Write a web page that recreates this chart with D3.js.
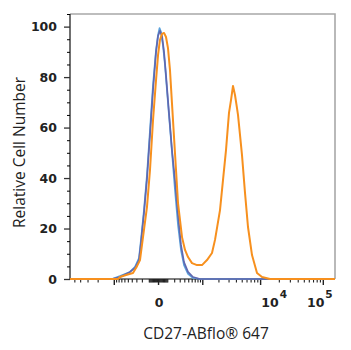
<!DOCTYPE html>
<html>
<head>
<meta charset="utf-8">
<script src="https://cdn.jsdelivr.net/npm/d3@7"></script>
<style>
html,body{margin:0;padding:0;background:#fff;}
svg{display:block;}
</style>
</head>
<body>
<svg id="chart" width="351" height="350"></svg>
<script>
// ---- data (fluorescence intensity, relative cell number) ----
const seriesNames = ["Blank control", "Isotype control", "CD27-ABflo 647"];
const blankX = [-5900,-1085,-748,-443,-328,-250,-215,-167,-124,-85,-50,-19,0,14,28,49,72,96,122,151,181,213,267,326,393,494,642,900,156000];
const blankY = [0,0,1.2,2.8,4.8,8.3,15.5,27.3,41.2,59.0,76.9,90.7,96.7,99.4,97.9,92.7,84.8,74.9,65.0,55.1,45.2,35.3,21.4,11.5,5.5,2.0,0.4,0,0];
const isoX = [-5900,-1085,-748,-443,-328,-250,-215,-167,-124,-85,-50,-19,0,18,39,61,84,109,136,165,213,267,326,393,494,642,900,156000];
const isoY = [0,0,0.8,2.8,4.4,7.5,14.3,26.1,39.6,57.0,74.9,89.9,96.3,98.3,96.3,89.9,80.8,70.9,61.0,51.1,39.2,25.4,13.5,6.7,2.8,0.8,0,0];
const sampleX = [-5900,-823,-748,-552,-372,-287,-232,-182,-124,-85,-50,-19,0,18,39,61,84,109,136,165,213,267,348,417,494,610,782,988,1234,1530,1736,2132,2406,2713,2936,3054,3304,3572,3860,4171,4334,4680,5053,5665,6346,7380,8902,10730,14435,156000];
const sampleY = [0,0,0.8,1.6,2.4,5.1,7.5,16.6,28.5,43.2,63.0,78.8,88.7,94.7,97.1,97.5,95.9,91.5,82.8,69.7,49.9,30.1,16.6,11.5,8.7,6.3,5.5,5.5,7.5,10.3,15.5,27.3,39.2,51.1,61.0,65.8,70.9,76.5,72.9,67.7,65.0,57.1,49.1,34.1,20.6,9.5,2.4,0.8,0,0];
const seriesColors = ["#5aa2dc", "#6068b0", "#f7901e"];

const yMajorTicks = [0,20,40,60,80,100];
const yMinorTicks = [5,10,15,25,30,35,45,50,55,65,70,75,85,90,95,105];
const xMajorTicks = [-1000,0,1000,10000,100000];
const xMinorTicks = [-5000,-4000,-3000,-2000,-900,-800,-700,-600,-500,-400,-300,-200,-100,
  -90,-80,-70,-60,-50,-40,-30,-20,-10,10,20,30,40,50,60,70,80,90,
  100,200,300,400,500,600,700,800,900,2000,3000,4000,5000,6000,7000,8000,9000,
  20000,30000,40000,50000,60000,70000,80000,90000];
const xLabelValues = [0, 10000, 100000];
const xLabelBase = ["0", "10", "10"];
const xLabelExp = ["", "4", "5"];
const xTitle = "CD27-ABflo\u00AE 647";
const yTitle = "Relative Cell Number";

// ---- layout ----
const L = 70, R = 335, T = 14, B = 279;
const svg = d3.select("#chart");

const x = d3.scaleSymlog().constant(250).domain([-5900, 156000]).range([L, R]);
const y = d3.scaleLinear().domain([0, 105]).range([B, T]);

// frame (top & right)
svg.append("path")
  .attr("d", `M${L},${T}H${R}V${B}`)
  .attr("fill", "none").attr("stroke", "#a8a8a8").attr("stroke-width", 1.6);

// y axis
const tickFont = "DejaVu Sans, Verdana, sans-serif";
const yAxis = svg.append("g").attr("transform", `translate(${L},0)`)
  .call(d3.axisLeft(y).tickValues(yMajorTicks).tickSize(6).tickPadding(7).tickFormat(d3.format("d")));
svg.append("g").attr("transform", `translate(${L},0)`)
  .call(d3.axisLeft(y).tickValues(yMinorTicks).tickSize(3).tickFormat(""))
  .select(".domain").remove();
yAxis.select(".domain").attr("d", `M0,${T}V${B}`).attr("stroke", "#333").attr("stroke-width", 1.4);
yAxis.selectAll(".tick line").attr("stroke", "#333").attr("stroke-width", 1.3);
yAxis.selectAll("text").attr("font-family", tickFont).attr("font-weight", "bold")
  .attr("font-size", 12.5).attr("fill", "#222");

// x axis
const xAxis = svg.append("g").attr("transform", `translate(0,${B})`)
  .call(d3.axisBottom(x).tickValues(xMajorTicks).tickSize(6).tickFormat(""));
xAxis.select(".domain").attr("d", `M${L},0H${R}`).attr("stroke", "#555").attr("stroke-width", 1.4);
xAxis.selectAll(".tick line").attr("stroke", "#222").attr("stroke-width", 1.4);
svg.append("g").attr("transform", `translate(0,${B})`)
  .call(d3.axisBottom(x).tickValues(xMinorTicks).tickSize(3.5).tickFormat(""))
  .call(g => g.select(".domain").remove())
  .selectAll(".tick line").attr("stroke", "#222").attr("stroke-width", 1.1);

// x tick labels
const labelOffsets = [1, 14, -3];
xLabelValues.forEach((v, i) => {
  const t = svg.append("text")
    .attr("x", x(v) + labelOffsets[i]).attr("y", 307)
    .attr("text-anchor", "middle")
    .attr("font-family", tickFont).attr("font-weight", "bold")
    .attr("font-size", 12.5).attr("fill", "#222");
  t.append("tspan").text(xLabelBase[i]);
  if (xLabelExp[i]) {
    t.append("tspan").attr("dy", -9).attr("dx", 1).attr("font-size", 10.5).text(xLabelExp[i]);
  }
});

// curves
const line = d3.line().x(d => x(d[0])).y(d => y(d[1])).curve(d3.curveLinear);
const allX = [blankX, isoX, sampleX];
const allY = [blankY, isoY, sampleY];
allX.forEach((xs, i) => {
  const pts = xs.map((v, j) => [v, allY[i][j]]);
  svg.append("path").datum(pts)
    .attr("d", line)
    .attr("fill", "none")
    .attr("stroke", seriesColors[i])
    .attr("stroke-width", i === 2 ? 2 : 1.7)
    .attr("stroke-linejoin", "round");
});

// titles
const titleFont = "Open Sans, Noto Sans, sans-serif";
svg.append("text").attr("x", 206).attr("y", 339)
  .attr("text-anchor", "middle").attr("font-family", titleFont)
  .attr("font-size", 15.5).attr("fill", "#222").text(xTitle);
svg.append("text").attr("transform", "translate(25,152.5) rotate(-90)")
  .attr("text-anchor", "middle").attr("font-family", titleFont)
  .attr("font-size", 15.5).attr("fill", "#222").text(yTitle);
</script>
</body>
</html>
